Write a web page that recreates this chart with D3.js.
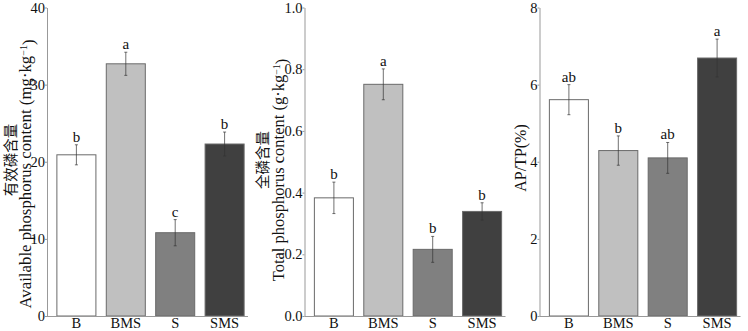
<!DOCTYPE html>
<html>
<head>
<meta charset="utf-8">
<script src="https://cdn.jsdelivr.net/npm/d3@7"></script>
<style>
  body { margin: 0; background: #fff; }
  text { font-family: "Liberation Serif", "Times New Roman", serif; fill: #111; }
  .cjk { font-family: "Noto Sans CJK SC", sans-serif; }
</style>
</head>
<body>
<div id="chart"></div>
<script>

// data
const categories = ["B", "BMS", "S", "SMS"];
const barColors = ["#ffffff", "#c0c0c0", "#808080", "#404040"];

const apValues  = [20.9, 32.7, 10.8, 22.3];
const apErrors  = [1.3, 1.5, 1.7, 1.55];
const apLetters = ["b", "a", "c", "b"];
const apTicks   = [0, 10, 20, 30, 40];

const tpValues  = [0.383, 0.751, 0.216, 0.339];
const tpErrors  = [0.051, 0.05, 0.042, 0.028];
const tpLetters = ["b", "a", "b", "b"];
const tpTicks   = [0, 0.2, 0.4, 0.6, 0.8, 1.0];

const ratioValues  = [5.61, 4.29, 4.10, 6.69];
const ratioErrors  = [0.39, 0.38, 0.40, 0.49];
const ratioLetters = ["ab", "b", "ab", "a"];
const ratioTicks   = [0, 2, 4, 6, 8];

function main() {

    const W = 748, H = 331;
    const svg = d3.select("#chart")
        .append("svg")
        .attr("width", W)
        .attr("height", H);

    const panels = [
        {axisX: 47, values: apValues, errors: apErrors, letters: apLetters, ticks: apTicks,
         fmt: d3.format("d"), cn: "有效磷含量", cnX: 15.5, cnY: 160,
         en: "Available phosphorus content (mg·kg", enX: 31, enY: 174, enSize: 16.8},
        {axisX: 304.5, values: tpValues, errors: tpErrors, letters: tpLetters, ticks: tpTicks,
         fmt: d3.format(".1f"), cn: "全磷含量", cnX: 268, cnY: 160,
         en: "Total phosphorus content (g·kg", enX: 284, enY: 170, enSize: 16.5},
        {axisX: 539.5, values: ratioValues, errors: ratioErrors, letters: ratioLetters, ticks: ratioTicks,
         fmt: d3.format("d"), cn: null,
         en: "AP/TP(%)", enX: 526, enY: 158, enSize: 16}
    ];

    const y0 = 316, y1 = 7.5;

    panels.forEach(function(p) {
        const g = svg.append("g");

        // scales
        const y = d3.scaleLinear()
            .domain([0, d3.max(p.ticks)])
            .range([y0, y1]);
        const x = d3.scaleBand()
            .domain(categories)
            .range([p.axisX, p.axisX + 207])
            .paddingInner(0.21)
            .paddingOuter(0.2);

        // bars
        g.selectAll("rect")
            .data(categories)
            .join("rect")
            .attr("x", d => x(d))
            .attr("y", (d, i) => y(p.values[i]))
            .attr("width", x.bandwidth())
            .attr("height", (d, i) => y0 - y(p.values[i]))
            .attr("fill", (d, i) => barColors[i])
            .attr("stroke", "#6a6a6a")
            .attr("stroke-width", 1);

        // error bars
        const eb = g.selectAll(".err")
            .data(categories)
            .join("g")
            .attr("class", "err")
            .attr("transform", d => `translate(${x(d) + x.bandwidth() / 2},0)`);
        eb.append("line")
            .attr("y1", (d, i) => y(p.values[i] + p.errors[i]))
            .attr("y2", (d, i) => y(p.values[i] - p.errors[i]))
            .attr("stroke", "#333").attr("stroke-width", 0.7);
        eb.append("line")
            .attr("x1", -1.5).attr("x2", 1.5)
            .attr("y1", (d, i) => y(p.values[i] + p.errors[i]))
            .attr("y2", (d, i) => y(p.values[i] + p.errors[i]))
            .attr("stroke", "#333").attr("stroke-width", 0.7);
        eb.append("line")
            .attr("x1", -1.5).attr("x2", 1.5)
            .attr("y1", (d, i) => y(p.values[i] - p.errors[i]))
            .attr("y2", (d, i) => y(p.values[i] - p.errors[i]))
            .attr("stroke", "#333").attr("stroke-width", 0.7);

        // significance letters
        eb.append("text")
            .attr("y", (d, i) => y(p.values[i] + p.errors[i]) - 3)
            .attr("text-anchor", "middle")
            .attr("font-size", "15px")
            .text((d, i) => p.letters[i]);

        // baseline
        g.append("line")
            .attr("x1", p.axisX).attr("x2", p.axisX + 201)
            .attr("y1", y0 + 0.5).attr("y2", y0 + 0.5)
            .attr("stroke", "#999");

        // Y axis
        const ay = g.append("g")
            .attr("transform", `translate(${p.axisX},0)`)
            .call(d3.axisLeft(y).tickValues(p.ticks).tickFormat(p.fmt)
                .tickSize(2).tickSizeOuter(0).tickPadding(0));
        ay.select(".domain").attr("stroke", "#999");
        ay.selectAll(".tick line").attr("stroke", "#999");
        ay.selectAll(".tick text")
            .attr("font-size", "14.5px")
            .attr("fill", "#111");

        // X axis labels
        const ax = g.append("g")
            .attr("transform", `translate(0,${y0})`)
            .call(d3.axisBottom(x).tickSize(0).tickPadding(2));
        ax.select(".domain").remove();
        ax.selectAll(".tick text")
            .attr("font-size", "14.5px")
            .attr("fill", "#111");

        // axis titles
        if (p.cn) {
            g.append("text")
                .attr("class", "cjk")
                .attr("transform", `translate(${p.cnX},${p.cnY}) rotate(-90)`)
                .attr("text-anchor", "middle")
                .attr("font-size", "14.5px")
                .attr("fill", "#222")
                .text(p.cn);
        }
        const t = g.append("text")
            .attr("transform", `translate(${p.enX},${p.enY}) rotate(-90)`)
            .attr("text-anchor", "middle")
            .attr("font-size", p.enSize + "px")
            .text(p.en);
        if (p.cn) {
            t.append("tspan").attr("dy", "-0.45em").attr("font-size", "10px").text("−1");
            t.append("tspan").attr("dy", "0.45em").text(")");
        }
    });
}

main()
</script>
</body>
</html>
